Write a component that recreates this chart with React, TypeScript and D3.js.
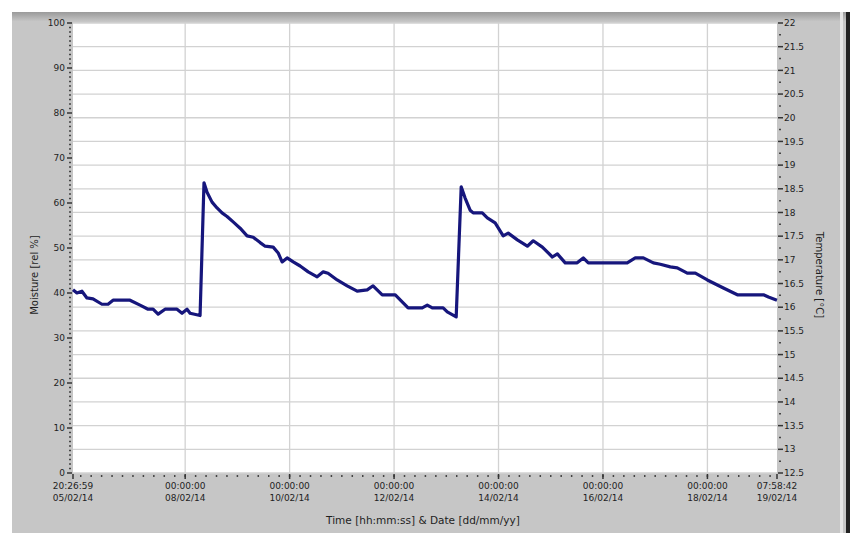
import React from 'react';
import * as d3 from 'd3';

// time since first sample, in hours
const hours = [
  0, 1.8, 4.1, 6.4, 9.2, 13.3, 16.1, 18.4, 26.2, 30.8, 34.5, 36.8, 39.1, 42.3, 47.8, 50.1, 52.4, 53.8, 58.4,
  60.2, 61.6, 63.9, 66.2, 68.5, 70.8, 73.6, 76.8, 80.0, 82.8, 86.0, 88.3, 92.0, 94.3, 96.1, 98.4, 101.2,
  104.4, 108.1, 112.2, 115.0, 117.2, 121.4, 126.0, 130.6, 135.2, 137.9, 142.1, 148.1, 154.0, 160.5, 162.8,
  165.1, 170.1, 172.0, 176.1, 178.4, 180.2, 182.5, 183.9, 188.1, 190.4, 194.0, 197.7, 200.0, 204.2, 208.8,
  211.5, 215.7, 220.3, 222.6, 226.2, 231.7, 234.5, 236.8, 254.7, 258.4, 262.1, 266.7, 269.9, 274.5, 277.7,
  282.3, 286.0, 291.5, 298.9, 305.3, 317.3, 319.6, 323.5,
];
// moisture, rel %
const moisture = [
  40.7, 40.0, 40.4, 38.9, 38.7, 37.5, 37.5, 38.4, 38.4, 37.3, 36.4, 36.4, 35.3, 36.4, 36.4, 35.5, 36.4, 35.5, 35.0,
  64.5, 62.4, 60.2, 58.9, 57.8, 57.0, 55.8, 54.4, 52.7, 52.4, 51.2, 50.4, 50.2, 48.9, 46.9, 47.8, 46.9,
  46.0, 44.7, 43.6, 44.7, 44.4, 42.9, 41.6, 40.4, 40.7, 41.6, 39.6, 39.6, 36.7, 36.7, 37.3,
  36.7, 36.7, 35.8, 34.7, 63.6, 61.1, 58.4, 57.8, 57.8, 56.7, 55.6, 52.7, 53.3, 51.8, 50.4,
  51.6, 50.2, 48.0, 48.7, 46.7, 46.7, 47.8, 46.7, 46.7, 47.8, 47.8, 46.7, 46.4, 45.8, 45.6,
  44.4, 44.4, 42.9, 41.1, 39.6, 39.6, 39.1, 38.4,
];

const startTime = new Date(2014, 1, 5, 20, 26, 59);
const endTime = new Date(2014, 1, 19, 7, 58, 42);
const dayTicks = [8, 10, 12, 14, 16, 18].map((d) => new Date(2014, 1, d));
const moistureTicks = [0, 10, 20, 30, 40, 50, 60, 70, 80, 90, 100];
const tempTicks = d3.range(12.5, 22.01, 0.5);

const W = 857;
const H = 533;
const left = 73, right = 777, top = 23, bottom = 473;
const font = '"DejaVu Sans", Verdana, sans-serif';
const ink = '#1e1e1e';

export default function App() {
  const x = d3.scaleTime().domain([startTime, endTime]).range([left, right]);
  const yM = d3.scaleLinear().domain([0, 100]).range([bottom, top]);
  const yT = d3.scaleLinear().domain([12.5, 22]).range([bottom, top]);

  const points = hours.map((h, i) => ({ t: new Date(+startTime + h * 3600e3), v: moisture[i] }));
  const line = d3.line<{ t: Date; v: number }>().x((d) => x(d.t)).y((d) => yM(d.v));

  const minorM = d3.range(0, 101, 1).filter((v) => v % 10 !== 0);
  const minorT = d3.range(12.75, 22, 0.5);
  const minorX: Date[] = [];
  for (let t = +dayTicks[0] - 2 * 86400e3; t <= +endTime; t += 0.2 * 86400e3) {
    if (t >= +startTime) minorX.push(new Date(t));
  }

  const fmtTime = d3.timeFormat('%H:%M:%S');
  const fmtDate = d3.timeFormat('%d/%m/%y');
  const xLabels = [startTime, ...dayTicks, endTime];

  return (
    <div style={{ position: 'fixed', left: 0, top: 0 }}>
      <svg width={W} height={H} style={{ display: 'block', background: '#fff' }}>
        <defs>
          <linearGradient id="topband" x1="0" y1="0" x2="0" y2="1">
            <stop offset="0" stopColor="#9a9a9a" />
            <stop offset="1" stopColor="#c4c4c4" />
          </linearGradient>
        </defs>
        <rect x={12} y={12} width={836} height={521} fill="#c6c6c6" />
        <rect x={12} y={12} width={836} height={9} fill="url(#topband)" />
        <rect x={846} y={12} width={4} height={521} fill="#222" />
        <rect x={840} y={12} width={3} height={521} fill="#e6e6e6" />

        <rect x={left} y={top} width={right - left} height={bottom - top} fill="#fff" />

        {tempTicks.map((t) => (
          <line key={'gh' + t} x1={left} x2={right} y1={yT(t)} y2={yT(t)} stroke="#d2d2d2" strokeWidth={1.3} />
        ))}
        {dayTicks.map((d) => (
          <line key={'gv' + +d} x1={x(d)} x2={x(d)} y1={top} y2={bottom} stroke="#d2d2d2" strokeWidth={1.3} />
        ))}

        {/* left axis */}
        {minorM.map((v) => (
          <line key={'mm' + v} x1={left - 4} x2={left - 2} y1={yM(v)} y2={yM(v)} stroke="#444" strokeWidth={1.5} />
        ))}
        {moistureTicks.map((v) => (
          <g key={'lm' + v}>
            <line x1={left - 6} x2={left - 1} y1={yM(v)} y2={yM(v)} stroke="#333" strokeWidth={1.5} />
            <text x={left - 8} y={yM(v)} dy="0.35em" textAnchor="end" fontSize={9} fontFamily={font} fill={ink}>
              {v}
            </text>
          </g>
        ))}

        {/* right axis */}
        {minorT.map((t) => (
          <line key={'mt' + t} x1={right + 2} x2={right + 4} y1={yT(t)} y2={yT(t)} stroke="#444" strokeWidth={1.5} />
        ))}
        {tempTicks.map((t) => (
          <g key={'lt' + t}>
            <line x1={right + 1} x2={right + 6} y1={yT(t)} y2={yT(t)} stroke="#333" strokeWidth={1.5} />
            <text x={right + 7} y={yT(t)} dy="0.35em" fontSize={9} fontFamily={font} fill={ink}>
              {d3.format('~g')(t)}
            </text>
          </g>
        ))}

        {/* bottom axis */}
        {minorX.map((d) => (
          <line key={'mx' + +d} x1={x(d)} x2={x(d)} y1={bottom + 2} y2={bottom + 4} stroke="#444" strokeWidth={1.5} />
        ))}
        {xLabels.map((d) => (
          <g key={'lx' + +d}>
            <line x1={x(d)} x2={x(d)} y1={bottom + 1} y2={bottom + 6} stroke="#333" strokeWidth={1.5} />
            <text x={x(d)} y={bottom + 16} textAnchor="middle" fontSize={9} fontFamily={font} fill={ink}>
              {fmtTime(d)}
            </text>
            <text x={x(d)} y={bottom + 28} textAnchor="middle" fontSize={9} fontFamily={font} fill={ink}>
              {fmtDate(d)}
            </text>
          </g>
        ))}

        <path d={line(points) || ''} fill="none" stroke="#16167c" strokeWidth={3.2} strokeLinejoin="round" />

        <text transform={`translate(38,${(top + bottom) / 2 + 27}) rotate(-90)`} textAnchor="middle" fontSize={10} fontFamily={font} fill={ink}>
          Moisture [rel %]
        </text>
        <text transform={`translate(816,${(top + bottom) / 2 + 27}) rotate(90)`} textAnchor="middle" fontSize={10} fontFamily={font} fill={ink}>
          Temperature [°C]
        </text>
        <text x={423} y={524} textAnchor="middle" fontSize={10.5} fontFamily={font} fill={ink}>
          Time [hh:mm:ss] &amp; Date [dd/mm/yy]
        </text>
      </svg>
    </div>
  );
}
